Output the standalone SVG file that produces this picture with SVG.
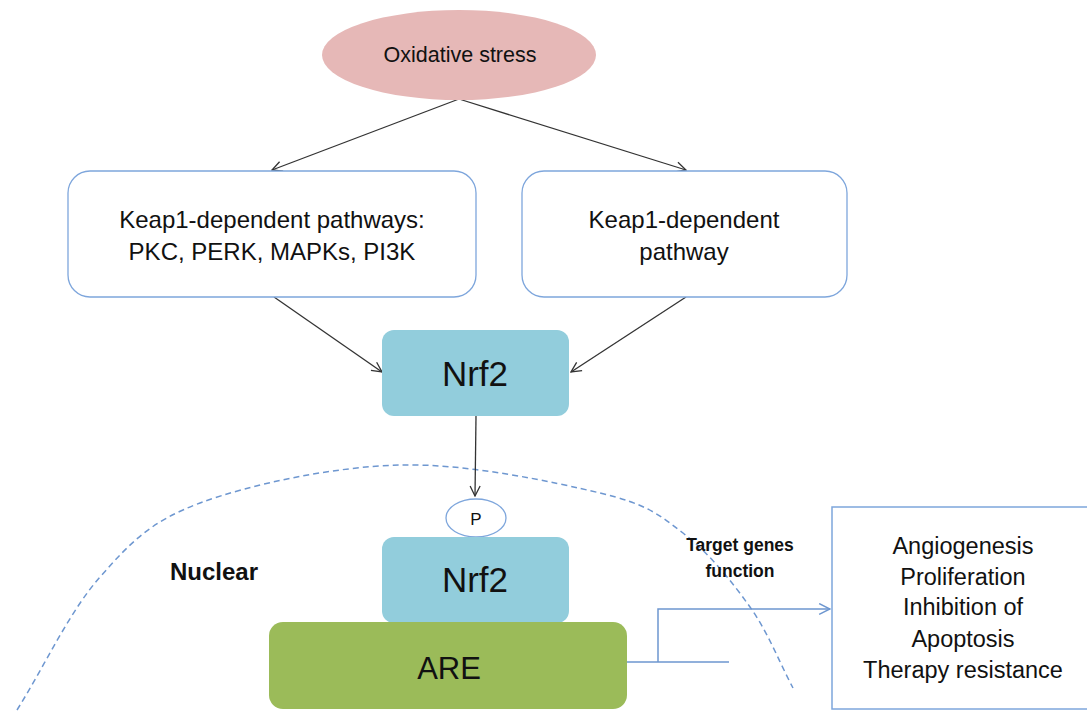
<svg xmlns="http://www.w3.org/2000/svg" width="1087" height="713" viewBox="0 0 1087 713">
<defs>
<style>
text{font-family:"Liberation Sans",Arial,sans-serif;fill:#111;text-anchor:middle}
.box{fill:#fff;stroke:#7EA6DC;stroke-width:1.3}
.nrf{fill:#92CDDC}
.blk{stroke:#333;stroke-width:1.3;fill:none}
.blue{stroke:#6E97D0;stroke-width:1.5;fill:none}
</style>
<marker id="ah" viewBox="0 0 12 12" refX="11" refY="6" markerWidth="12" markerHeight="12" markerUnits="userSpaceOnUse" orient="auto">
<path d="M1,1 L11,6 L1,11" fill="none" stroke="#333" stroke-width="1.3"/>
</marker>
<marker id="ahb" viewBox="0 0 12 12" refX="11" refY="6" markerWidth="13" markerHeight="13" markerUnits="userSpaceOnUse" orient="auto">
<path d="M1,1 L11,6 L1,11" fill="none" stroke="#6E97D0" stroke-width="1.4"/>
</marker>
</defs>
<rect width="1087" height="713" fill="#fff"/>
<g id="nucleus-boundary">
<path d="M17,710 C44.7,665.7 69.5,611.5 100,577 C130.5,542.5 150,521.7 200,503 C250,484.3 333.3,466.7 400,465 C466.7,463.3 552.8,481.7 600,493 C647.2,504.3 658,514 683,533 C708,552 731.7,581.2 750,607 C768.3,632.8 778.7,661 793,688" fill="none" stroke="#6E97D0" stroke-width="1.5" stroke-dasharray="6,4"/>
<text x="214" y="580" font-size="24" font-weight="bold">Nuclear</text>
</g>
<g id="connectors">
<line class="blk" x1="459" y1="99" x2="272" y2="170" marker-end="url(#ah)"/>
<line class="blk" x1="459" y1="99" x2="686" y2="170" marker-end="url(#ah)"/>
<line class="blk" x1="274" y1="297" x2="382" y2="372" marker-end="url(#ah)"/>
<line class="blk" x1="686" y1="297" x2="571" y2="372" marker-end="url(#ah)"/>
<line class="blk" x1="476" y1="416" x2="475" y2="496" marker-end="url(#ah)"/>
<path class="blue" d="M627,662 H729 M658,662 V609 H830" marker-end="url(#ahb)"/>
<text x="740" y="551" font-size="17.5" font-weight="bold">Target genes</text>
<text x="740" y="577" font-size="17.5" font-weight="bold">function</text>
</g>
<g id="oxidative-stress">
<ellipse cx="459" cy="55" rx="137" ry="45" fill="#E6B8B7"/>
<text x="460" y="62" font-size="21.5">Oxidative stress</text>
</g>
<g id="keap1-pathways">
<rect class="box" x="68" y="171" width="408" height="126" rx="22"/>
<text x="272" y="228" font-size="24">Keap1-dependent pathways:</text>
<text x="272" y="260" font-size="24">PKC, PERK, MAPKs, PI3K</text>
</g>
<g id="keap1-pathway">
<rect class="box" x="522" y="171" width="325" height="126" rx="22"/>
<text x="684" y="228" font-size="24">Keap1-dependent</text>
<text x="684" y="260" font-size="24">pathway</text>
</g>
<g id="nrf2-cyto">
<rect class="nrf" x="382" y="330" width="187" height="86" rx="12"/>
<text x="475" y="386" font-size="35">Nrf2</text>
</g>
<g id="phospho">
<ellipse cx="476" cy="518" rx="30" ry="19" fill="#fff" stroke="#7EA6DC" stroke-width="1.3"/>
<text x="476" y="525" font-size="17">P</text>
</g>
<g id="nrf2-nuclear">
<rect class="nrf" x="382" y="537" width="187" height="86" rx="12"/>
<text x="475" y="592" font-size="35">Nrf2</text>
</g>
<g id="are">
<rect x="269" y="622" width="358" height="87" rx="14" fill="#9BBB59"/>
<text x="449" y="679" font-size="31">ARE</text>
</g>
<g id="target-functions">
<rect x="832" y="507" width="262" height="202" fill="#fff" stroke="#7EA6DC" stroke-width="1.5"/>
<text x="963" y="554" font-size="23.5">Angiogenesis</text>
<text x="963" y="585" font-size="23.5">Proliferation</text>
<text x="963" y="615" font-size="23.5">Inhibition of</text>
<text x="963" y="647" font-size="23.5">Apoptosis</text>
<text x="963" y="678" font-size="23.5">Therapy resistance</text>
</g>
</svg>
